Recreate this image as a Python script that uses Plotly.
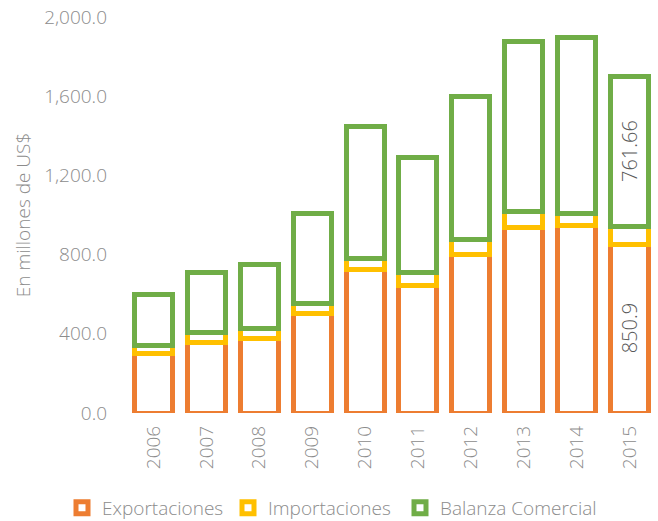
import plotly.graph_objects as go

years = ["2006", "2007", "2008", "2009", "2010", "2011", "2012", "2013", "2014", "2015"]
exportaciones = [300, 356, 375, 505, 723, 645, 799, 937, 949, 850.9]
importaciones = [43, 50, 52, 49, 55, 66, 75, 83, 60, 89.24]
balanza = [257, 306, 323, 456, 668, 579, 724, 854, 889, 761.66]
label_year = "2015"

series = [
    ("Exportaciones", exportaciones, "#ED7D31", True),
    ("Importaciones", importaciones, "#FFC000", False),
    ("Balanza Comercial", balanza, "#70AD47", True),
]
legend_ids = ["legend", "legend2", "legend3"]
legend_x_px = [62, 228, 400]

FONT = "Open Sans"
GREY = "#8c8c8c"

fig = go.Figure()
base = [0.0] * len(years)
annotations = []
for (name, vals, color, show_label), lid in zip(series, legend_ids):
    fig.add_trace(go.Bar(
        x=years, y=vals, name=name, legend=lid,
        marker=dict(color="white", line=dict(color=color, width=5)),
        hoverinfo="x+y+name",
    ))
    if show_label:
        i = years.index(label_year)
        annotations.append(dict(
            x=i, y=base[i] + vals[i] / 2, xref="x", yref="y",
            text=str(vals[i]), showarrow=False, textangle=-90,
            xanchor="center", yanchor="middle",
            font=dict(family=FONT, size=20, color="#595959", weight=300),
        ))
    base = [b + v for b, v in zip(base, vals)]

legend_common = dict(orientation="h", xref="container", yref="container",
                     xanchor="left", y=1 - 508 / 521, yanchor="middle",
                     font=dict(size=19, color=GREY), itemwidth=30,
                     bgcolor="rgba(0,0,0,0)")
layout_legends = {lid: dict(legend_common, x=px / 658) for lid, px in zip(legend_ids, legend_x_px)}

fig.update_layout(
    barmode="stack", bargap=0.28,
    width=658, height=521,
    margin=dict(l=127, r=2, t=17, b=108),
    plot_bgcolor="white", paper_bgcolor="white",
    font=dict(family=FONT, size=19, color=GREY, weight=300),
    showlegend=True,
    annotations=annotations,
    **layout_legends,
)
fig.update_xaxes(type="category", range=[-0.5, len(years) - 0.5], showgrid=False,
                 zeroline=False, showline=False, tickangle=-90,
                 ticklabelstandoff=8, tickfont=dict(size=19, color=GREY))
fig.update_yaxes(range=[0, 2000], dtick=400, tickformat=",.1f", showgrid=False,
                 zeroline=False, showline=False, ticklabelstandoff=19,
                 tickfont=dict(size=19, color=GREY),
                 title=dict(text="En millones de US$", font=dict(size=19, color=GREY), standoff=8))

fig.write_html("out.html")
